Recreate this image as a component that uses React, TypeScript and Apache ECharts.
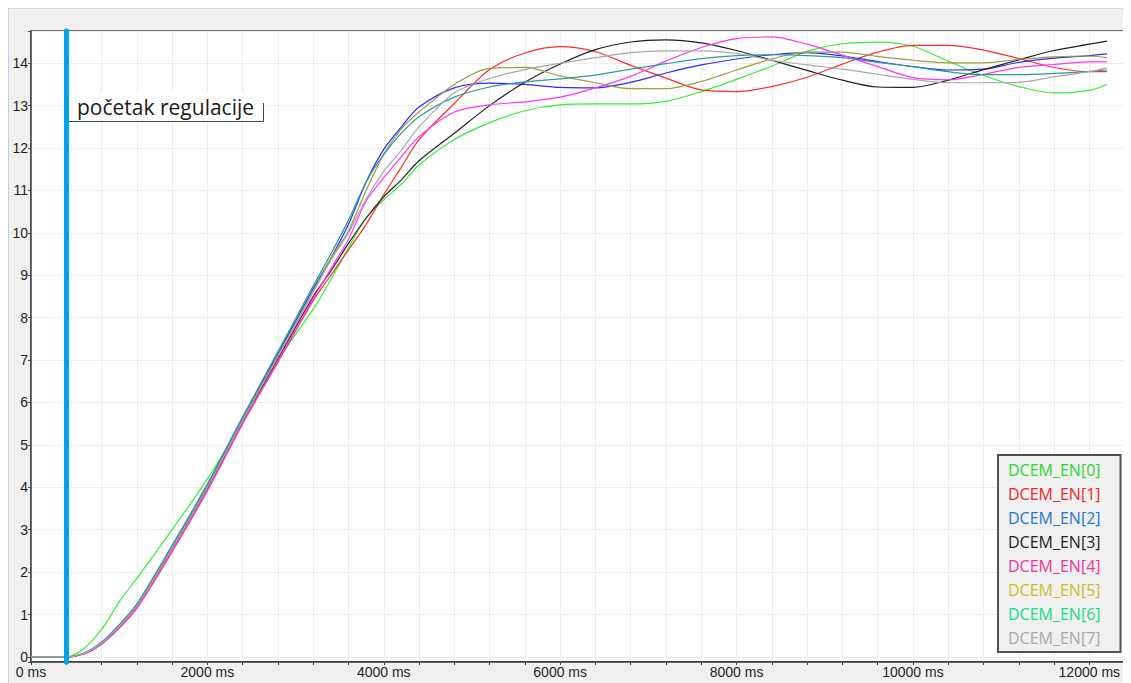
import React, { useEffect, useRef } from "react";
import * as echarts from "echarts";

// time axis (ms) shared by all series
const TIME_MS = [
  0, 400, 600, 800, 1000, 1200, 1600, 2000, 2400, 2800, 3200, 3400, 3600, 3800, 4000, 4200, 4400,
  4800, 5200, 5600, 6000, 6400, 6800, 7200, 7600, 8000, 8400, 8800, 9200, 9600, 10000, 10400,
  10800, 11200, 11600, 12000, 12200,
];

const DCEM_EN0 = [
  0, 0, 0.2, 0.65, 1.3, 1.85, 3.0, 4.2, 5.55, 7.0, 8.2, 8.9, 9.65, 10.35, 10.78, 11.15, 11.6,
  12.2, 12.6, 12.88, 13.02, 13.04, 13.04, 13.1, 13.33, 13.62, 13.93, 14.28, 14.46, 14.5, 14.4,
  14.05, 13.71, 13.45, 13.3, 13.36, 13.5,
];
const DCEM_EN1 = [
  0, 0, 0.07, 0.3, 0.68, 1.15, 2.48, 3.92, 5.5, 6.95, 8.4, 9.0, 9.6, 10.2, 10.9, 11.55, 12.2,
  13.05, 13.85, 14.24, 14.39, 14.27, 13.95, 13.65, 13.37, 13.33, 13.45, 13.67, 13.98, 14.26,
  14.42, 14.42, 14.31, 14.11, 13.9, 13.8, 13.8,
];
const DCEM_EN2 = [
  0, 0, 0.08, 0.33, 0.74, 1.22, 2.6, 4.05, 5.63, 7.15, 8.68, 9.4, 10.2, 11.2, 11.97, 12.5, 12.97,
  13.42, 13.53, 13.5, 13.43, 13.42, 13.55, 13.77, 13.96, 14.1, 14.2, 14.25, 14.17, 14.04, 13.92,
  13.84, 13.86, 14.02, 14.12, 14.18, 14.22,
];
const DCEM_EN3 = [
  0, 0, 0.08, 0.32, 0.72, 1.2, 2.55, 3.98, 5.55, 7.03, 8.5, 9.1, 9.75, 10.35, 10.85, 11.25, 11.7,
  12.35, 13.0, 13.55, 13.98, 14.32, 14.5, 14.55, 14.48, 14.3, 14.07, 13.83, 13.6, 13.44, 13.43,
  13.6, 13.85, 14.08, 14.3, 14.45, 14.52,
];
const DCEM_EN4 = [
  0, 0, 0.07, 0.3, 0.68, 1.15, 2.5, 3.93, 5.5, 6.98, 8.45, 9.15, 9.85, 10.75, 11.3, 11.8, 12.27,
  12.85, 13.02, 13.09, 13.2, 13.42, 13.69, 14.05, 14.37, 14.58, 14.62, 14.45, 14.19, 13.92, 13.66,
  13.61, 13.74, 13.9, 13.97, 14.03, 14.03,
];
const DCEM_EN5 = [
  0, 0, 0.08, 0.33, 0.73, 1.21, 2.57, 4.02, 5.6, 7.1, 8.62, 9.4, 10.05, 11.0, 11.85, 12.45, 12.85,
  13.5, 13.88, 13.9, 13.7, 13.54, 13.4, 13.4, 13.57, 13.84, 14.1, 14.26, 14.26, 14.16, 14.07,
  14.01, 14.01, 14.09, 14.15, 14.17, 14.13,
];
const DCEM_EN6 = [
  0, 0, 0.09, 0.35, 0.76, 1.25, 2.63, 4.08, 5.66, 7.2, 8.75, 9.5, 10.3, 11.2, 11.85, 12.35, 12.74,
  13.2, 13.44, 13.56, 13.63, 13.72, 13.86, 13.99, 14.11, 14.18, 14.2, 14.18, 14.13, 14.02, 13.92,
  13.8, 13.73, 13.73, 13.76, 13.81, 13.84,
];
const DCEM_EN7 = [
  0, 0, 0.08, 0.32, 0.72, 1.2, 2.56, 4.0, 5.57, 7.08, 8.6, 9.35, 10.0, 10.8, 11.45, 11.95, 12.5,
  13.3, 13.64, 13.85, 14.0, 14.13, 14.25, 14.29, 14.29, 14.23, 14.07, 13.96, 13.86, 13.74, 13.62,
  13.54, 13.54, 13.55, 13.68, 13.8, 13.89,
];

const SERIES_NAMES = [
  "DCEM_EN[0]",
  "DCEM_EN[1]",
  "DCEM_EN[2]",
  "DCEM_EN[3]",
  "DCEM_EN[4]",
  "DCEM_EN[5]",
  "DCEM_EN[6]",
  "DCEM_EN[7]",
];
const SERIES_VALUES = [DCEM_EN0, DCEM_EN1, DCEM_EN2, DCEM_EN3, DCEM_EN4, DCEM_EN5, DCEM_EN6, DCEM_EN7];
const LINE_COLORS = ["#33ee33", "#ff2a2a", "#2a2aff", "#202020", "#ff33ff", "#a09a40", "#2a9a9a", "#a8a8a8"];
const LEGEND_COLORS = ["#2fd82f", "#ee2626", "#2477cc", "#222222", "#ee3399", "#c8c026", "#14dd88", "#aaaaaa"];

const REGULATION_START_MS = 400;
const ANNOTATION_TEXT = "početak regulacije";
const X_LABEL_STEP = 2000;
const X_MAX = 12450;
const Y_MIN = -0.12;
const Y_MAX = 14.76;

export default function App() {
  const ref = useRef<HTMLDivElement>(null);

  useEffect(() => {
    if (!ref.current) return;
    const chart = echarts.init(ref.current, null, { renderer: "svg" });

    const lineSeries = SERIES_NAMES.map((name, i) => ({
      name,
      type: "line",
      data: TIME_MS.map((t, j) => [t, SERIES_VALUES[i][j]]),
      showSymbol: false,
      smooth: 0.3,
      color: LINE_COLORS[i],
      lineStyle: { color: LINE_COLORS[i], width: 1.2 },
      emphasis: { disabled: true },
      silent: true,
      z: 2,
    }));

    const markerSeries = {
      name: "start",
      type: "line",
      data: [],
      silent: true,
      z: 5,
      markLine: {
        silent: true,
        symbol: ["none", "none"],
        label: { show: false },
        lineStyle: { color: "#00a2e8", width: 5, type: "solid", cap: "round" },
        data: [{ xAxis: REGULATION_START_MS }],
      },
    };

    chart.setOption({
      animation: false,
      backgroundColor: "transparent",
      grid: {
        left: 23,
        top: 23,
        right: 2,
        bottom: 21,
        show: true,
        backgroundColor: "#ffffff",
        borderColor: "#444444",
        borderWidth: 1.5,
      },
      xAxis: {
        type: "value",
        min: 0,
        max: X_MAX,
        interval: 400,
        axisLine: { show: true, onZero: false, lineStyle: { color: "#333333", width: 1.5 } },
        axisTick: { show: true, length: 3, lineStyle: { color: "#444444" } },
        splitLine: { show: true, lineStyle: { color: "#ececec", width: 1 } },
        axisLabel: {
          margin: 3,
          color: "#1e1e1e",
          fontSize: 14,
          fontFamily: "Liberation Sans, Arial, sans-serif",
          showMaxLabel: false,
          formatter: (v: number) => (v % X_LABEL_STEP === 0 ? `${v} ms` : ""),
        },
      },
      yAxis: {
        type: "value",
        min: Y_MIN,
        max: Y_MAX,
        splitNumber: 15,
        axisLine: { show: true, onZero: false, lineStyle: { color: "#444444", width: 1.5 } },
        axisTick: { show: true, length: 3, lineStyle: { color: "#444444" } },
        splitLine: { show: true, lineStyle: { color: "#ececec", width: 1 } },
        axisLabel: {
          margin: 3,
          color: "#1e1e1e",
          fontSize: 14,
          fontFamily: "Liberation Sans, Arial, sans-serif",
          formatter: (v: number) =>
            Math.abs(v - Math.round(v)) < 1e-6 ? String(Math.round(v)) : "",
        },
      },
      legend: {
        show: true,
        left: 990,
        top: 447,
        orient: "vertical",
        selectedMode: false,
        itemWidth: 0,
        itemHeight: 0,
        itemGap: 0,
        icon: "rect",
        padding: [3, 20, 2, 5],
        backgroundColor: "#f0f0f0",
        borderColor: "#505050",
        borderWidth: 2,
        textStyle: { fontSize: 16, lineHeight: 24, fontFamily: "Open Sans, sans-serif" },
        data: SERIES_NAMES.map((name, i) => ({
          name,
          textStyle: { color: LEGEND_COLORS[i] },
        })),
      },
      graphic: [
        {
          type: "rect",
          z: 100,
          shape: { x: 61, y: 84, width: 194, height: 29 },
          style: { fill: "#ffffff" },
        },
        {
          type: "polyline",
          z: 101,
          shape: { points: [[61, 113.5], [255.5, 113.5], [255.5, 95]] },
          style: { stroke: "#444444", lineWidth: 1, fill: null },
        },
        {
          type: "text",
          z: 102,
          x: 69,
          y: 99,
          style: {
            text: ANNOTATION_TEXT,
            fill: "#1a1a1a",
            font: "21px 'Open Sans', sans-serif",
            verticalAlign: "middle",
          },
        },
      ],
      series: [...lineSeries, markerSeries],
    });

    return () => chart.dispose();
  }, []);

  return (
    <div
      style={{
        width: 1123,
        height: 675,
        background: "#f0f0f0",
        boxShadow: "inset 1px 0 0 #bcd0e6, inset 0 1px 0 #dadada",
      }}
    >
      <div ref={ref} style={{ width: 1123, height: 675 }} />
    </div>
  );
}
